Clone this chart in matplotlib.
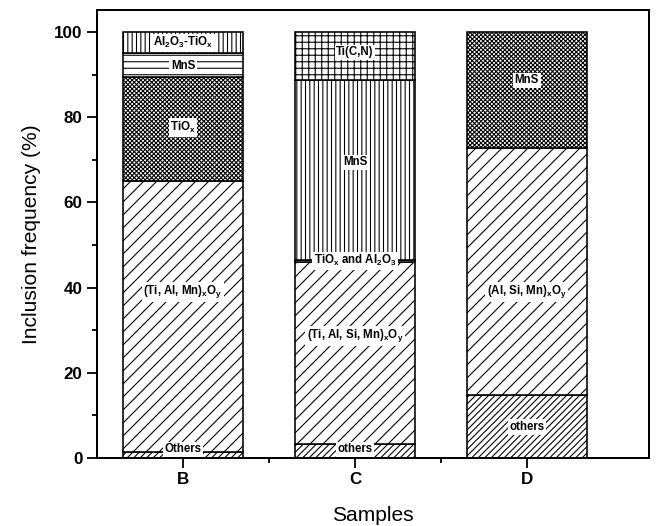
import matplotlib
matplotlib.use("Agg")
import matplotlib.pyplot as plt
import numpy as np

# data (percent)
SAMPLES = ["B", "C", "D"]

B_VALUES = [1.5, 63.5, 24.5, 5.5, 5.0]
B_NAMES = ["Others", "(Ti, Al, Mn)$_x$O$_y$", "TiO$_x$", "MnS", "Al$_2$O$_3$-TiO$_x$"]

C_VALUES = [3.3, 42.7, 0.6, 42.1, 11.3]
C_NAMES = ["others", "(Ti, Al, Si, Mn)$_x$O$_y$", "TiO$_x$ and Al$_2$O$_3$", "MnS", "Ti(C,N)"]

D_VALUES = [14.7, 58.1, 27.2]
D_NAMES = ["others", "(Al, Si, Mn)$_x$O$_y$", "MnS"]

# label heights (where the text sits in each bar)
B_LABEL_Y = [2.0, 39.0, 77.6, 92.0, 97.5]
C_LABEL_Y = [2.0, 28.7, 46.3, 69.4, 95.3]
D_LABEL_Y = [7.3, 39.0, 88.7]

# styles
B_HATCH = ["////", "//", "xxxxxx", "--", "|||"]
C_HATCH = ["////", "//", "", "|||", "++"]
D_HATCH = ["////", "//", "xxxxxx"]

DPI = 78
PT = 72 / DPI  # px -> pt

plt.rcParams["font.family"] = ["Liberation Sans", "DejaVu Sans"]
plt.rcParams["mathtext.fontset"] = "custom"
plt.rcParams["mathtext.rm"] = "Liberation Sans"
plt.rcParams["mathtext.bf"] = "Liberation Sans:bold"
plt.rcParams["mathtext.default"] = "bf"
plt.rcParams["hatch.linewidth"] = 1.0


def main():
    fig = plt.figure(figsize=(656 / DPI, 526 / DPI), dpi=DPI)
    ax = fig.add_axes([97 / 656, 68 / 526, 552 / 656, 448 / 526])

    xs = np.arange(1, len(SAMPLES) + 1)
    width = 0.70
    groups = [
        (B_VALUES, B_NAMES, B_LABEL_Y, B_HATCH),
        (C_VALUES, C_NAMES, C_LABEL_Y, C_HATCH),
        (D_VALUES, D_NAMES, D_LABEL_Y, D_HATCH),
    ]
    for x, (vals, names, label_y, hatches) in zip(xs, groups):
        bottom = 0.0
        for v, name, ly, h in zip(vals, names, label_y, hatches):
            ax.bar(x, v, width=width, bottom=bottom, color="white",
                   edgecolor="black", linewidth=1.6 * PT, hatch=h)
            bottom += v
            ax.text(x, ly, name, ha="center", va="center",
                    fontsize=11.5 * PT, fontweight="bold",
                    bbox=dict(facecolor="white", edgecolor="none", pad=1.5))

    ax.set_xlim(0.5, 3.71)
    ax.set_ylim(0, 105.2)
    ax.set_xticks(xs)
    ax.set_xticklabels(SAMPLES)
    ax.set_xticks([1.5, 2.5], minor=True)
    ax.set_yticks(np.arange(0, 101, 20))
    ax.set_yticks(np.arange(10, 100, 20), minor=True)
    ax.tick_params(which="major", direction="out", length=10 * PT,
                   width=1.8 * PT, labelsize=17 * PT, pad=4)
    ax.tick_params(which="minor", direction="out", length=5 * PT,
                   width=1.8 * PT)
    for lab in ax.get_xticklabels() + ax.get_yticklabels():
        lab.set_fontweight("bold")
    for sp in ax.spines.values():
        sp.set_linewidth(2.0 * PT)

    ax.set_xlabel("Samples", fontsize=21 * PT, labelpad=17)
    ax.set_ylabel("Inclusion frequency (%)", fontsize=21 * PT, labelpad=12)

    fig.savefig("out.png", dpi=DPI)


if __name__ == "__main__":
    main()
